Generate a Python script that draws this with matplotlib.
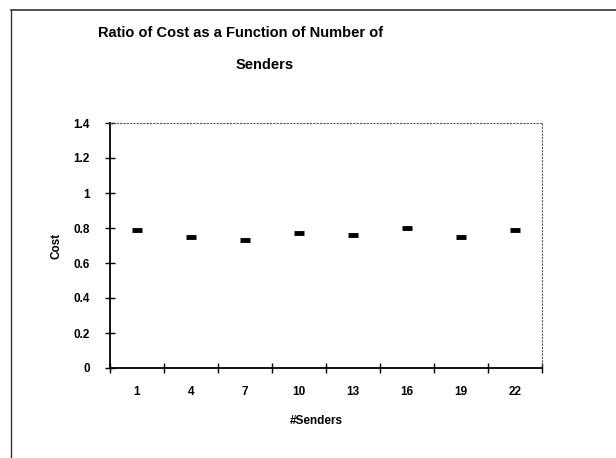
import numpy as np
import matplotlib.pyplot as plt
from matplotlib.lines import Line2D

senders = ["1", "4", "7", "10", "13", "16", "19", "22"]
cost = [0.79, 0.75, 0.73, 0.77, 0.76, 0.80, 0.75, 0.79]

W, H = 616, 458
plt.rcParams['font.family'] = ['Liberation Sans', 'DejaVu Sans']

fig = plt.figure(figsize=(W / 100, H / 100), dpi=100)
# plot area in pixels: left 110, right 542, top 123, bottom 368
ax = fig.add_axes([110 / W, 1 - 368 / H, (542 - 110) / W, (368 - 123) / H])

x = np.arange(1, len(senders) + 1)
ax.plot(x, cost, linestyle='none', marker='_', markersize=7,
        markeredgewidth=3.5, color='black')

ax.set_xlim(0.5, len(senders) + 0.5)
ax.set_ylim(0, 1.4)

ax.set_xticks(np.arange(0.5, len(senders) + 1, 1))
ax.set_xticklabels([])
ax.set_xticks(x, minor=True)
ax.set_xticklabels(senders, minor=True, fontsize=8.5, fontweight='bold')
ax.tick_params(axis='x', which='major', direction='inout', length=7, width=1)
ax.tick_params(axis='x', which='minor', length=0, pad=13)

ax.set_yticks(np.arange(0, 1.41, 0.2))
ax.set_yticklabels(["0", "0.2", "0.4", "0.6", "0.8", "1", "1.2", "1.4"],
                   fontsize=8.5, fontweight='bold')
ax.tick_params(axis='y', direction='inout', length=7, width=1, pad=11)

ax.spines['left'].set_linewidth(1.3)
ax.spines['bottom'].set_linewidth(1.3)
for s in ['top', 'right']:
    ax.spines[s].set_linestyle((0, (1, 2)))
    ax.spines[s].set_linewidth(0.8)
    ax.spines[s].set_color('#555555')

ax.set_xlabel("#Senders", fontsize=8.5, fontweight='bold')
ax.xaxis.set_label_coords((316 - 110) / (542 - 110), -0.19)
ax.set_ylabel("Cost", fontsize=8.5, fontweight='bold', labelpad=8)

fig.text(241 / W, 1 - 33 / H, "Ratio of Cost as a Function of Number of",
         ha='center', va='center', fontsize=10.5, fontweight='bold')
fig.text(265 / W, 1 - 65 / H, "Senders",
         ha='center', va='center', fontsize=10.5, fontweight='bold')

# outer frame lines (left and top)
fig.add_artist(Line2D([11 / W, 11 / W], [0, 1 - 10 / H], color='#333333', lw=1))
fig.add_artist(Line2D([11 / W, 1], [1 - 10 / H, 1 - 10 / H], color='#333333', lw=1.2))

fig.savefig("out.png", dpi=100)
